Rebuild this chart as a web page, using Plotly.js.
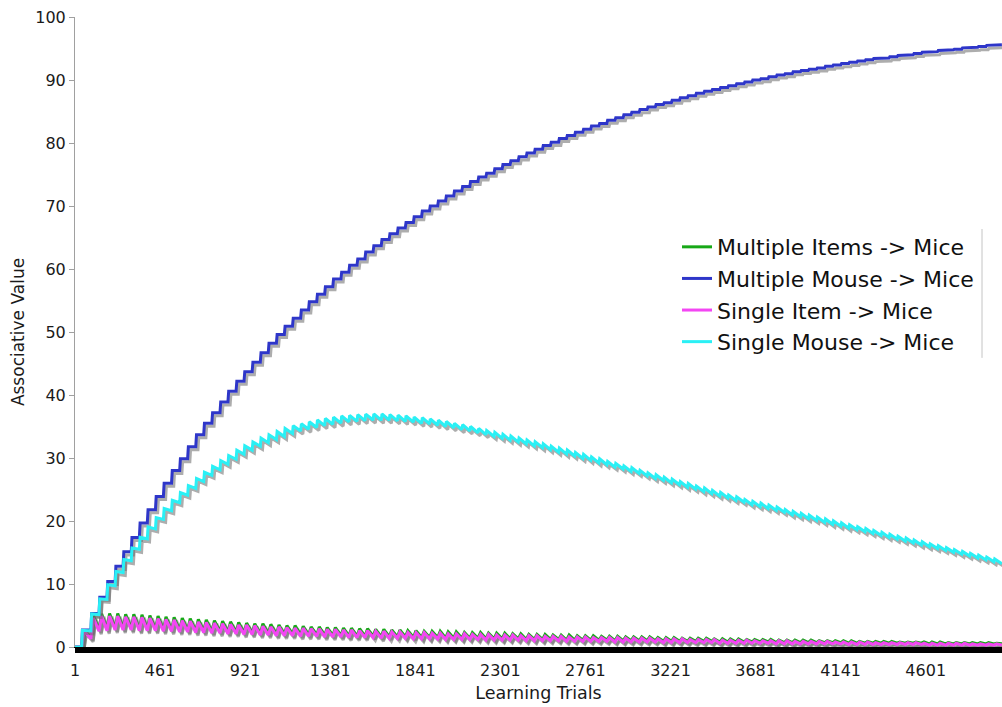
<!DOCTYPE html>
<html>
<head>
<meta charset="utf-8">
<script src="https://cdn.plot.ly/plotly-3.0.1.min.js"></script>
<style>html,body{margin:0;padding:0;background:#fff;}#chart{width:1002px;height:707px;}</style>
</head>
<body>
<div id="chart"></div>
<script>
// ---- data ----
const seriesNames = ["Multiple Items -> Mice", "Multiple Mouse -> Mice", "Single Item -> Mice", "Single Mouse -> Mice"];
const tickTrials = [1, 461, 921, 1381, 1841, 2301, 2761, 3221, 3681, 4141, 4601];
const yTicks = [0, 10, 20, 30, 40, 50, 60, 70, 80, 90, 100];
const lastTrial = 5013;

// trial at which each learning cycle begins (rise of the saw-teeth)
const cycleStart = [37,87,131,174,218,261,305,349,392,436,479,523,567,610,654,697,741,785,828,872,915,959,1003,1046,1090,1133,1177,1221,1264,1308,1351,1395,1439,1482,1526,1569,1613,1657,1700,1744,1787,1831,1875,1918,1962,2005,2049,2093,2136,2180,2223,2267,2311,2354,2398,2441,2485,2529,2572,2616,2659,2703,2747,2790,2834,2877,2921,2965,3008,3052,3095,3139,3183,3226,3270,3313,3357,3401,3444,3488,3531,3575,3619,3662,3706,3749,3793,3837,3880,3924,3967,4011,4055,4098,4142,4185,4229,4273,4316,4360,4403,4447,4491,4534,4578,4621,4665,4709,4752,4796,4839,4883,4927,4970];

// Multiple Mouse -> Mice : plateau level of each step
const multiMouseLevel = [2.7,5.3,7.9,10.4,12.8,15.1,17.4,19.7,21.8,23.9,26.0,28.0,29.9,31.8,33.7,35.5,37.2,38.9,40.6,42.2,43.7,45.2,46.7,48.2,49.6,50.9,52.2,53.5,54.8,56.0,57.2,58.4,59.5,60.6,61.6,62.7,63.7,64.7,65.6,66.5,67.4,68.3,69.2,70.0,70.8,71.6,72.4,73.1,73.9,74.6,75.2,75.9,76.6,77.2,77.8,78.4,79.0,79.6,80.1,80.7,81.2,81.7,82.2,82.7,83.1,83.6,84.0,84.5,84.9,85.3,85.7,86.1,86.4,86.8,87.2,87.5,87.9,88.2,88.5,88.8,89.1,89.4,89.7,90.0,90.2,90.5,90.8,91.0,91.3,91.5,91.7,91.9,92.2,92.4,92.6,92.8,93.0,93.2,93.4,93.5,93.7,93.9,94.0,94.2,94.4,94.5,94.7,94.8,94.9,95.1,95.2,95.3,95.5,95.6];

// Single Mouse -> Mice : mid level of each tooth and tooth height
const singleMouseMid = [2.6,5.2,7.6,9.8,11.9,13.8,15.6,17.3,18.9,20.4,21.8,23.1,24.3,25.4,26.5,27.5,28.4,29.3,30.1,30.9,31.6,32.2,32.8,33.3,33.8,34.3,34.7,35.0,35.3,35.6,35.8,36.0,36.2,36.3,36.4,36.5,36.5,36.5,36.4,36.3,36.2,36.0,35.9,35.7,35.5,35.3,35.0,34.8,34.5,34.2,33.9,33.6,33.3,33.0,32.7,32.4,32.1,31.8,31.4,31.1,30.8,30.4,30.1,29.7,29.4,29.0,28.7,28.3,28.0,27.6,27.2,26.9,26.5,26.2,25.8,25.5,25.1,24.8,24.4,24.1,23.7,23.4,23.0,22.7,22.4,22.1,21.8,21.4,21.1,20.8,20.5,20.2,19.9,19.6,19.3,19.0,18.7,18.4,18.1,17.8,17.5,17.2,16.9,16.6,16.3,16.0,15.7,15.4,15.1,14.8,14.5,14.2,13.9,13.6];
const singleMouseSwing = [0.1,0.1,0.1,0.15,0.15,0.2,0.2,0.25,0.3,0.3,0.35,0.4,0.4,0.45,0.5,0.5,0.55,0.6,0.6,0.65,0.7,0.7,0.75,0.75,0.8,0.8,0.85,0.85,0.9,0.9,0.95,0.95,0.95,0.95,0.95,0.95,1.0,1.0,1.0,1.0,1.0,1.0,1.0,1.0,1.0,1.0,1.0,1.0,1.0,1.0,0.95,0.95,0.95,0.95,0.95,0.95,0.95,0.95,0.95,0.95,0.95,0.95,0.95,0.95,0.95,0.9,0.9,0.9,0.9,0.9,0.9,0.9,0.9,0.9,0.9,0.9,0.9,0.9,0.9,0.9,0.85,0.85,0.85,0.85,0.85,0.85,0.85,0.85,0.85,0.85,0.85,0.85,0.85,0.85,0.85,0.8,0.8,0.8,0.8,0.8,0.8,0.8,0.8,0.8,0.8,0.75,0.75,0.75,0.75,0.75,0.75,0.75,0.75,0.75];

// Multiple Items -> Mice : tooth peaks and troughs
const multiItemsPeak = [2.7,5.0,5.3,5.3,5.3,5.2,5.2,5.1,5.0,4.9,4.8,4.7,4.6,4.5,4.4,4.3,4.2,4.1,4.0,3.9,3.8,3.7,3.7,3.6,3.5,3.4,3.4,3.3,3.2,3.2,3.1,3.1,3.0,3.0,2.9,2.9,2.8,2.8,2.7,2.7,2.6,2.6,2.5,2.5,2.5,2.4,2.4,2.3,2.3,2.3,2.2,2.2,2.2,2.1,2.1,2.0,2.0,2.0,1.9,1.9,1.9,1.8,1.8,1.8,1.7,1.7,1.7,1.6,1.6,1.6,1.6,1.5,1.5,1.5,1.4,1.4,1.4,1.4,1.3,1.3,1.3,1.3,1.2,1.2,1.2,1.2,1.1,1.1,1.1,1.1,1.1,1.0,1.0,1.0,1.0,1.0,0.9,0.9,0.9,0.9,0.9,0.8,0.8,0.8,0.8,0.8,0.8,0.7,0.7,0.7,0.7,0.7,0.7,0.6];
const multiItemsTrough = [1.5,2.7,2.8,2.9,2.9,2.9,2.8,2.8,2.8,2.7,2.7,2.6,2.6,2.5,2.5,2.4,2.4,2.3,2.3,2.2,2.2,2.1,2.1,2.0,2.0,2.0,1.9,1.9,1.9,1.8,1.8,1.8,1.7,1.7,1.7,1.7,1.6,1.6,1.6,1.6,1.5,1.5,1.5,1.5,1.4,1.4,1.4,1.4,1.4,1.3,1.3,1.3,1.3,1.3,1.2,1.2,1.2,1.2,1.2,1.1,1.1,1.1,1.1,1.1,1.1,1.0,1.0,1.0,1.0,1.0,1.0,0.9,0.9,0.9,0.9,0.9,0.9,0.9,0.8,0.8,0.8,0.8,0.8,0.8,0.8,0.7,0.7,0.7,0.7,0.7,0.7,0.7,0.7,0.7,0.6,0.6,0.6,0.6,0.6,0.6,0.6,0.6,0.6,0.6,0.5,0.5,0.5,0.5,0.5,0.5,0.5,0.5,0.5,0.5];

// Single Item -> Mice : tooth peaks and troughs
const singleItemPeak = [2.5,4.6,4.9,4.9,4.9,4.8,4.8,4.7,4.6,4.5,4.4,4.3,4.2,4.1,4.0,3.9,3.8,3.7,3.6,3.5,3.5,3.4,3.3,3.2,3.2,3.1,3.0,3.0,2.9,2.9,2.8,2.8,2.7,2.7,2.6,2.6,2.5,2.5,2.4,2.4,2.3,2.3,2.3,2.2,2.2,2.1,2.1,2.1,2.0,2.0,2.0,1.9,1.9,1.9,1.8,1.8,1.8,1.7,1.7,1.7,1.6,1.6,1.6,1.5,1.5,1.5,1.5,1.4,1.4,1.4,1.4,1.3,1.3,1.3,1.3,1.2,1.2,1.2,1.2,1.1,1.1,1.1,1.1,1.0,1.0,1.0,1.0,1.0,0.9,0.9,0.9,0.9,0.9,0.8,0.8,0.8,0.8,0.8,0.7,0.7,0.7,0.7,0.7,0.7,0.6,0.6,0.6,0.6,0.6,0.6,0.5,0.5,0.5,0.5];
const singleItemTrough = [1.3,2.5,2.6,2.7,2.7,2.7,2.6,2.6,2.6,2.5,2.5,2.4,2.4,2.3,2.3,2.2,2.2,2.1,2.1,2.0,2.0,1.9,1.9,1.8,1.8,1.8,1.7,1.7,1.7,1.6,1.6,1.6,1.5,1.5,1.5,1.5,1.4,1.4,1.4,1.4,1.3,1.3,1.3,1.3,1.2,1.2,1.2,1.2,1.2,1.1,1.1,1.1,1.1,1.1,1.0,1.0,1.0,1.0,1.0,0.9,0.9,0.9,0.9,0.9,0.9,0.8,0.8,0.8,0.8,0.8,0.8,0.7,0.7,0.7,0.7,0.7,0.7,0.7,0.6,0.6,0.6,0.6,0.6,0.6,0.6,0.5,0.5,0.5,0.5,0.5,0.5,0.5,0.5,0.5,0.4,0.4,0.4,0.4,0.4,0.4,0.4,0.4,0.4,0.4,0.3,0.3,0.3,0.3,0.3,0.3,0.3,0.3,0.3,0.3];

// ---- build the traces ----
const colors = ["#17a817", "#2e36c9", "#f346f3", "#2af0f5"];
const FONT = "DejaVu Sans, Verdana, sans-serif";

function teeth(peaks, troughs, riseWidth) {
  const x = [1], y = [0];
  for (let i = 0; i < cycleStart.length; i++) {
    x.push(cycleStart[i]); y.push(i === 0 ? 0 : troughs[i - 1]);
    x.push(cycleStart[i] + riseWidth); y.push(peaks[i]);
  }
  x.push(lastTrial); y.push(troughs[troughs.length - 1]);
  return {x, y};
}

const smPeak = singleMouseMid.map((m, i) => m + singleMouseSwing[i] / 2);
const smTrough = singleMouseMid.map((m, i) => m - singleMouseSwing[i] / 2);

const lines = [
  teeth(multiItemsPeak, multiItemsTrough, 14),
  teeth(multiMouseLevel, multiMouseLevel, 4),
  teeth(singleItemPeak, singleItemTrough, 14),
  teeth(smPeak, smTrough, 4)
];

const SHX = 12, SHY = 0.48;   // drop-shadow offset (≈2px right, 3px down)
const traces = [];
lines.forEach((d, i) => {
  traces.push({
    x: d.x.map(v => v + SHX), y: d.y.map(v => v - SHY),
    type: "scatter", mode: "lines", showlegend: false, hoverinfo: "skip",
    line: {color: "rgba(105,105,105,0.55)", width: 3}
  });
  traces.push({
    x: d.x, y: d.y, name: seriesNames[i], legendgroup: "g" + i,
    type: "scatter", mode: "lines",
    line: {color: colors[i], width: 3}
  });
});

const L = 75, T = 16.7, B = 59.5;
const plotW = 1002 - L, plotH = 707 - T - B;
const px2x = v => (v - L) / plotW;
const px2y = v => (707 - B - v) / plotH;

const layout = {
  width: 1002, height: 707, autosize: false,
  margin: {l: L, r: 0, t: T, b: B, pad: 0},
  paper_bgcolor: "#fff", plot_bgcolor: "#fff",
  font: {family: FONT, color: "#1a1a1a", size: 16},
  showlegend: true,
  legend: {
    x: px2x(677), y: px2y(226), xanchor: "left", yanchor: "top",
    font: {family: FONT, size: 22, color: "#111"},
    bgcolor: "rgba(255,255,255,0)", borderwidth: 0, tracegroupgap: 0
  },
  xaxis: {
    range: [1, lastTrial + 0.6], tickmode: "array", tickvals: tickTrials,
    ticktext: tickTrials.map(String),
    showgrid: false, zeroline: false,
    showline: true, linecolor: "#000", linewidth: 1,
    ticks: "outside", ticklen: 5, tickcolor: "#000", tickwidth: 1,
    ticklabelstandoff: 4,
    minor: {tickmode: "linear", tick0: 1, dtick: 5, ticks: "outside", ticklen: 5, tickcolor: "#000", tickwidth: 1, showgrid: false},
    tickfont: {family: FONT, size: 16, color: "#1a1a1a"},
    title: {text: "Learning Trials", font: {family: FONT, size: 17.5, color: "#1a1a1a"}, standoff: 7},
    automargin: false
  },
  yaxis: {
    range: [0, 100], tickmode: "array", tickvals: yTicks,
    showgrid: false, zeroline: false,
    showline: true, linecolor: "#a0a0a0", linewidth: 1,
    ticks: "outside", ticklen: 5, tickcolor: "#a0a0a0", tickwidth: 1,
    tickfont: {family: FONT, size: 16, color: "#1a1a1a"},
    title: {text: "Associative Value", font: {family: FONT, size: 17, color: "#1a1a1a"}, standoff: 6},
    automargin: false
  },
  shapes: [{
    type: "line", xref: "paper", yref: "paper",
    x0: px2x(982), x1: px2x(982), y0: px2y(229), y1: px2y(358),
    line: {color: "#c4c4c4", width: 1}
  }]
};

Plotly.newPlot("chart", traces, layout, {displayModeBar: false, staticPlot: true});
</script>
</body>
</html>
